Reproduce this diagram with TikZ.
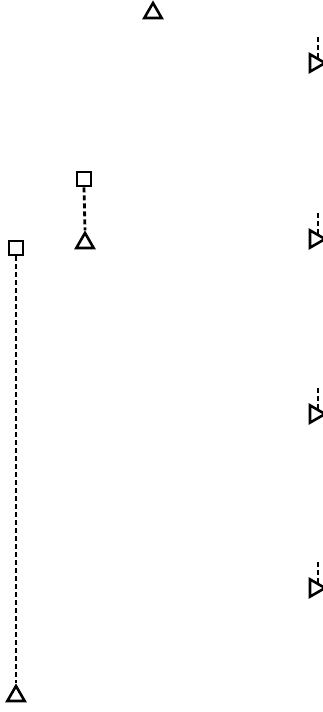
\documentclass[tikz,border=0pt]{standalone}
\usetikzlibrary{shapes.geometric}
\begin{document}
\begin{tikzpicture}[x=1pt,y=-1pt,
  tri/.style={draw, line width=2.6pt, regular polygon, regular polygon sides=3, minimum size=20pt, inner sep=0pt},
  rtri/.style={tri, shape border rotate=-90},
  sq/.style={draw, line width=2.6pt, rectangle, minimum size=14pt, inner sep=0pt},
  dline/.style={line width=2.8pt, dash pattern=on 5pt off 3pt}]
\useasboundingbox (0,0) rectangle (322,712);
\fill[white] (0,0) rectangle (322,712);
% top triangle
\node[tri] (t0) at (153,13) {};
% middle pair
\node[sq] (s1) at (84,179) {};
\node[tri] (t1) at (85,243) {};
\draw[dline] (s1.south) -- (t1.north);
% left long pair
\node[sq] (s2) at (16,248) {};
\node[tri] (t2) at (16,696) {};
\draw[dline] (s2.south) -- (t2.north);
% right side clipped symbols
\foreach \i/\yy in {a/63, b/239, c/414, d/588}{
  \node[rtri] (r\i) at (315,\yy) {};
  \coordinate (c\i) at (318,\yy-26);
  \draw[dline] (c\i) -- (318,\yy-5);
}
\end{tikzpicture}
\end{document}
